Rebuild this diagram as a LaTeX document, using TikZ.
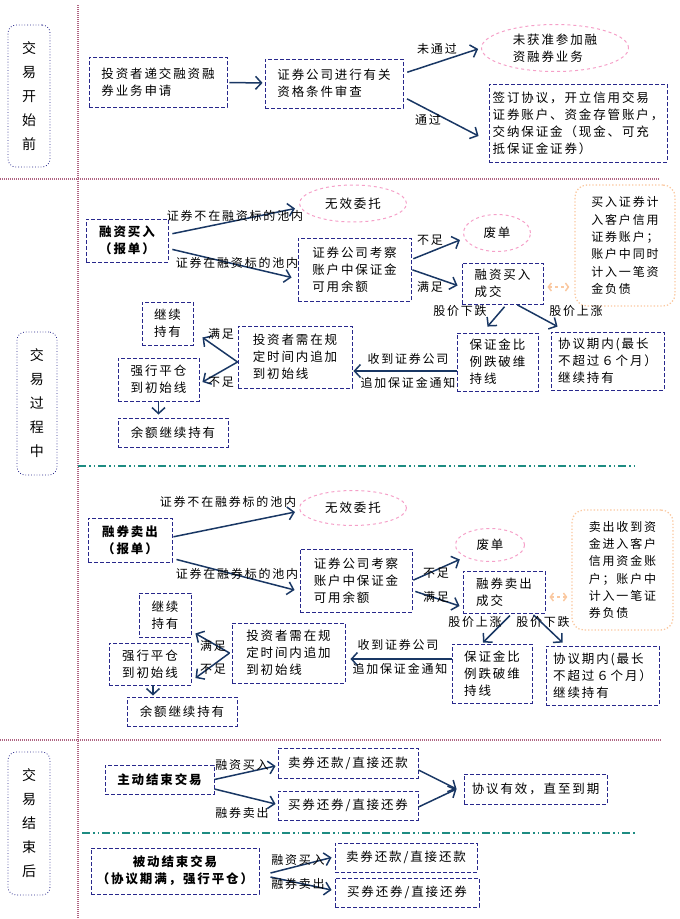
\documentclass[tikz,border=0pt]{standalone}
\usepackage{fontspec}
\setmainfont[LetterSpace=15]{Noto Sans CJK SC}
\usetikzlibrary{arrows.meta,shapes.geometric}
\definecolor{boxblue}{RGB}{40,40,140}
\definecolor{arrblue}{RGB}{25,55,100}
\definecolor{pinkline}{RGB}{245,160,200}
\definecolor{orangeline}{RGB}{250,200,160}
\definecolor{sepred}{RGB}{175,100,130}
\definecolor{septeal}{RGB}{30,140,130}
\begin{document}
\begin{tikzpicture}[x=1pt,y=-1pt,
  box/.style 2 args={draw=boxblue, line width=0.9pt, dash pattern=on 4pt off 2pt, minimum width=#1pt, minimum height=#2pt, inner sep=2pt, align=left, font=\fontsize{12.5}{17}\selectfont},
  oval/.style 2 args={ellipse, draw=pinkline, dashed, line width=1pt, minimum width=#1pt, minimum height=#2pt, inner sep=0pt, align=left, font=\fontsize{12.5}{17}\selectfont},
  note/.style 2 args={draw=orangeline, rounded corners=12pt, dotted, line width=1.3pt, minimum width=#1pt, minimum height=#2pt, inner sep=2pt, align=left, font=\fontsize{12}{17.3}\selectfont},
  phase/.style 2 args={draw=boxblue, rounded corners=8pt, dotted, line width=0.8pt, minimum width=#1pt, minimum height=#2pt, inner sep=0pt, align=center, font=\fontsize{14}{24}\selectfont},
  lbl/.style={inner sep=0pt, font=\fontsize{12}{13}\selectfont},
  arr/.style={draw=arrblue, line width=1.5pt, -{Straight Barb[length=6pt,width=13pt]}},
  dbl/.style={draw=orangeline, line width=1.5pt, dashed, {Straight Barb[length=3pt,width=8pt]}-{Straight Barb[length=3pt,width=8pt]}},
  sep/.style={draw=sepred, line width=2pt, dash pattern=on 1pt off 1pt},
  subsep/.style={draw=septeal, line width=1.2pt, dash pattern=on 8pt off 3pt on 1.5pt off 3pt on 1.5pt off 3pt}]
\useasboundingbox (0,0) rectangle (680,919);

\draw[sep] (78,5) -- (78,919);
\draw[sep] (0,179) -- (660,179);
\draw[sep] (0,740) -- (662,740);
\draw[subsep] (78,466) -- (638,466);
\draw[subsep] (82,833) -- (635,833);

\node[phase={42}{142}] (pre) at (29,96) {交\\易\\开\\始\\前};
\node[phase={40}{143}] (mid) at (37,403.5) {交\\易\\过\\程\\中};
\node[phase={42}{143}] (post) at (29,823.5) {交\\易\\结\\束\\后};

\node[box={138}{50}] (apply) at (158,82) {投资者递交融资融\\券业务申请};
\node[box={138}{49}] (check) at (334,83.5) {证券公司进行有关\\资格条件审查};
\node[oval={147}{47}] (deny) at (555,48) {未获准参加融\\资融券业务};
\node[box={178}{78}] (sign) at (578,123) {签订协议，开立信用交易\\证券账户、资金存管账户，\\交纳保证金（现金、可充\\抵保证金证券）};

\draw[arr, shorten <=2pt, shorten >=2pt] (apply) -- (check);
\draw[arr, shorten <=4pt, shorten >=3pt] ([yshift=10pt]check.east) -- (deny.west);
\draw[arr, shorten <=4pt] ([yshift=-13.5pt]check.east) -- ([xshift=-10pt,yshift=-13pt]sign.west);
\node[lbl] (l1) at (437,49) {未通过};
\node[lbl] (l2) at (428,120) {通过};

\node[box={82}{43}, align=center, font=\fontsize{12.5}{17}\selectfont\bfseries] (buy) at (127,240.5) {融资买入\\（报单）};
\node[oval={107}{37}] (void1) at (353,203.5) {无效委托};
\node[box={113}{63}] (acct1) at (354.5,269.5) {证券公司考察\\账户中保证金\\可用余额};
\node[oval={67}{37}] (waste1) at (497,233) {废单};
\node[box={81}{41}] (deal1) at (502.5,283.5) {融资买入\\成交};
\node[note={100}{121}] (memo1) at (625,245.5) {买入证券计\\入客户信用\\证券账户；\\账户中同时\\计入一笔资\\金负债};
\node[box={81}{58}] (drop1) at (497.5,362) {保证金比\\例跌破维\\持线};
\node[box={113}{58}] (hold1) at (607.5,361) {协议期内(最长\\不超过６个月）\\继续持有};
\node[box={114}{62}] (add1) at (295,357) {投资者需在规\\定时间内追加\\到初始线};
\node[box={51}{43}] (keep1) at (167.5,323.5) {继续\\持有};
\node[box={81}{43}] (force1) at (158.5,379.5) {强行平仓\\到初始线};
\node[box={110}{29}] (rest1) at (173,432.5) {余额继续持有};

\draw[arr, shorten <=4pt] ([yshift=6pt]buy.east) -- ([xshift=-4pt,yshift=-5pt]void1.west);
\draw[arr, shorten <=4pt] ([yshift=-8pt]buy.east) -- ([xshift=-6pt,yshift=-8pt]acct1.west);
\draw[arr, shorten <=2pt] ([yshift=10pt]acct1.east) -- ([xshift=-3pt,yshift=-7pt]waste1.west);
\draw[arr, shorten <=1pt] (acct1.east) -- ([xshift=-4pt,yshift=-2pt]deal1.west);
\draw[arr, shorten <=3pt] ([xshift=4pt]deal1.south) -- ([xshift=-10pt,yshift=6pt]drop1.north);
\draw[arr, shorten <=1pt] ([xshift=14pt]deal1.south) -- ([xshift=7pt,yshift=5pt]hold1.north west);
\coordinate (gi1) at ([yshift=-9pt]drop1.west);
\draw[arr, shorten >=1pt] (gi1) -- (gi1 -| add1.east);
\draw[arr] ([yshift=-5pt]add1.west) -- ([xshift=9pt,yshift=8pt]keep1.south east);
\draw[arr] ([yshift=-5pt]add1.west) -- ([xshift=3pt,yshift=-2.5pt]force1.east);
\draw[arr, shorten >=3pt] (force1.south) -- (force1.south |- rest1.north);
\coordinate (fo1) at ([yshift=-3.5pt]deal1.east);
\draw[dbl, shorten <=4pt, shorten >=5pt] (fo1) -- (fo1 -| memo1.west);
\node[lbl] (l3) at (235,216) {证券不在融资标的池内};
\node[lbl] (l4) at (237,263) {证券在融资标的池内};
\node[lbl] (l5) at (430,240) {不足};
\node[lbl] (l6) at (430,287) {满足};
\node[lbl] (l7) at (460,311) {股价下跌};
\node[lbl] (l8) at (576,311) {股价上涨};
\node[lbl] (l9) at (408,359) {收到证券公司};
\node[lbl] (l10) at (408,383) {追加保证金通知};
\node[lbl] (l11) at (221,334) {满足};
\node[lbl] (l12) at (221,382) {不足};

\node[box={84}{44}, align=center, font=\fontsize{12.5}{17}\selectfont\bfseries] (sell) at (130,540) {融券卖出\\（报单）};
\node[oval={107}{35}] (void2) at (353,508) {无效委托};
\node[box={112}{63}] (acct2) at (356,580.5) {证券公司考察\\账户中保证金\\可用余额};
\node[oval={69}{33}] (waste2) at (490,545) {废单};
\node[box={82}{42}] (deal2) at (504,592) {融券卖出\\成交};
\node[note={101}{120}] (memo2) at (622.5,570) {卖出收到资\\金进入客户\\信用资金账\\户；账户中\\计入一笔证\\券负债};
\node[box={80}{59}] (drop2) at (492,673.5) {保证金比\\例跌破维\\持线};
\node[box={113}{59}] (hold2) at (602.5,675.5) {协议期内(最长\\不超过６个月）\\继续持有};
\node[box={113}{60}] (add2) at (288.5,653) {投资者需在规\\定时间内追加\\到初始线};
\node[box={52}{44}] (keep2) at (165,615) {继续\\持有};
\node[box={82}{42}] (force2) at (150,664) {强行平仓\\到初始线};
\node[box={110}{29}] (rest2) at (182,711.5) {余额继续持有};

\draw[arr, shorten <=1pt] ([yshift=3pt]sell.east) -- ([xshift=-4pt,yshift=-4pt]void2.west);
\draw[arr] ([xshift=4pt,yshift=3pt]sell.south east) -- ([xshift=-5pt,yshift=-9.5pt]acct2.west);
\draw[arr, shorten <=1pt, shorten >=6pt] (acct2.east) -- (waste2.south west);
\draw[arr, shorten <=3pt] ([yshift=-10pt]acct2.east) -- ([xshift=-3pt,yshift=-14pt]deal2.west);
\draw[arr, shorten <=3pt] ([xshift=8pt]deal2.south) -- ([xshift=-9pt,yshift=1pt]drop2.north);
\draw[arr, shorten <=2pt] ([xshift=28pt]deal2.south) -- ([xshift=17pt,yshift=3pt]hold2.north west);
\coordinate (gi2) at ([yshift=14.5pt]drop2.west);
\draw[arr, shorten >=5pt] (gi2) -- (gi2 -| add2.east);
\draw[arr] ([xshift=-2pt]add2.west) -- ([xshift=4pt,yshift=4pt]keep2.south east);
\draw[arr] ([xshift=-2pt]add2.west) -- ([xshift=4pt,yshift=-14pt]force2.east);
\coordinate (fl2) at ([xshift=3pt]force2.south);
\draw[arr, shorten >=1pt] (fl2) -- (fl2 |- rest2.north);
\coordinate (fo2) at ([yshift=-5pt]deal2.east);
\draw[dbl, shorten <=4pt, shorten >=4pt] (fo2) -- (fo2 -| memo2.west);
\node[lbl] (l13) at (228,502) {证券不在融券标的池内};
\node[lbl] (l14) at (237,574) {证券在融券标的池内};
\node[lbl] (l15) at (436,573) {不足};
\node[lbl] (l16) at (436,597) {满足};
\node[lbl] (l17) at (475,622) {股价上涨};
\node[lbl] (l18) at (543,622) {股价下跌};
\node[lbl] (l19) at (398,645) {收到证券公司};
\node[lbl] (l20) at (400,669) {追加保证金通知};
\node[lbl] (l21) at (213,646) {满足};
\node[lbl] (l22) at (213,669) {不足};

\node[box={109}{29}, font=\fontsize{12.5}{17}\selectfont\bfseries] (active) at (159.5,779.5) {主动结束交易};
\node[box={140}{30}] (repay1) at (348,763) {卖券还款/直接还款};
\node[box={140}{29}] (return1) at (348,805.5) {买券还券/直接还券};
\node[box={143}{30}] (valid) at (535.5,789) {协议有效，直至到期};
\node[box={168}{46}, align=center, font=\fontsize{12.5}{17}\selectfont\bfseries] (passive) at (175,871) {被动结束交易\\（协议期满，强行平仓）};
\node[box={142}{29}] (repay2) at (406,857.5) {卖券还款/直接还款};
\node[box={144}{29}] (return2) at (407,892.5) {买券还券/直接还券};

\draw[arr] (active.east) -- ([xshift=-2pt,yshift=-3pt]repay1.west);
\draw[arr] ([yshift=-9.5pt]active.east) -- ([xshift=-2pt,yshift=1.5pt]return1.west);
\draw[arr] ([yshift=-7pt]repay1.east) -- ([xshift=-7pt]valid.west);
\draw[arr] ([yshift=-1.5pt]return1.east) -- ([xshift=-7pt]valid.west);
\draw[arr] ([xshift=11pt,yshift=-2pt]passive.east) -- ([xshift=-3pt]repay2.west);
\draw[arr] ([xshift=11pt,yshift=-6pt]passive.east) -- ([xshift=-3pt,yshift=2.5pt]return2.west);
\node[lbl] (l23) at (242,765) {融资买入};
\node[lbl] (l24) at (242,813) {融券卖出};
\node[lbl] (l25) at (298,860) {融资买入};
\node[lbl] (l26) at (298,884) {融券卖出};
\end{tikzpicture}
\end{document}
